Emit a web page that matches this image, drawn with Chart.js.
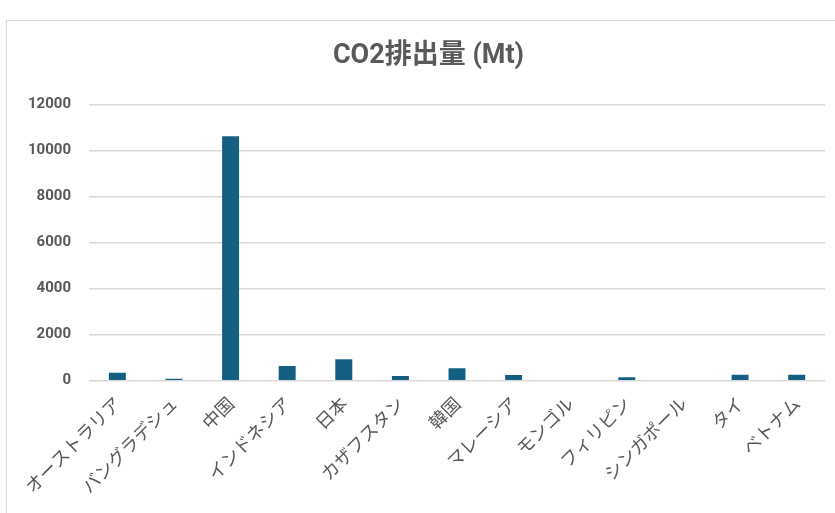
<!DOCTYPE html>
<html lang="ja">
<head>
<meta charset="utf-8">
<title>CO2排出量 (Mt)</title>
<script src="https://cdn.jsdelivr.net/npm/chart.js@4.4.1/dist/chart.umd.min.js"></script>
<style>
  html, body { margin: 0; padding: 0; background: #fff; overflow: hidden; }
  #wrap { position: relative; width: 835px; height: 513px; }
  #frame {
    position: absolute; left: 6px; top: 20px; width: 900px; height: 600px;
    border: 1.5px solid #d9d9d9; box-sizing: border-box;
  }
  #box { position: absolute; left: 0; top: 0; width: 835px; height: 513px; }
</style>
</head>
<body>
<div id="wrap">
  <div id="frame"></div>
  <div id="box"><canvas id="myChart"></canvas></div>
</div>
<script>
// 国名と排出量 (Mt)
var kuni = ['オーストラリア', 'バングラデシュ', '中国', 'インドネシア', '日本', 'カザフスタン',
            '韓国', 'マレーシア', 'モンゴル', 'フィリピン', 'シンガポール', 'タイ', 'ベトナム'];
var haishutsu = [340, 80, 10620, 640, 930, 205, 540, 250, 0, 145, 0, 260, 260];
var yMemori = [0, 2000, 4000, 6000, 8000, 10000, 12000];

var iro = '#595959';
var fontJa = "'Noto Sans CJK JP', sans-serif";

// タイトルを枠の中央に寄せる (少し右へ)
var titleShift = {
    id: 'titleShift',
    afterLayout: function (chart) {
        if (chart.titleBlock) {
            chart.titleBlock.left += 11;
            chart.titleBlock.right += 11;
        }
    }
};

var ctx = document.getElementById('myChart');

var myChart = new Chart(ctx, {
    type: 'bar',
    data: {
        labels: kuni,
        datasets: [{
            label: 'CO2排出量 (Mt)',
            data: haishutsu,
            backgroundColor: '#156082',
            barPercentage: 0.3,
            categoryPercentage: 1.0
        }]
    },
    plugins: [titleShift],
    options: {
        responsive: true,
        maintainAspectRatio: false,
        animation: false,
        layout: {
            padding: {left: 10, right: 10, top: 0, bottom: 12}
        },
        scales: {
            x: {
                grid: {display: false},
                border: {display: false},
                ticks: {
                    color: iro,
                    font: {family: fontJa, size: 18},
                    minRotation: 45,
                    maxRotation: 45,
                    padding: 4
                }
            },
            y: {
                min: yMemori[0],
                max: yMemori[yMemori.length - 1],
                afterBuildTicks: function (axis) {
                    axis.ticks = yMemori.map(function (v) { return {value: v}; });
                },
                grid: {color: '#d9d9d9', lineWidth: 1.5, drawTicks: false},
                border: {display: false},
                ticks: {
                    color: iro,
                    font: {family: "Roboto, sans-serif", size: 15, weight: 'bold'},
                    padding: 18,
                    callback: function (v) { return String(v); }
                }
            }
        },
        plugins: {
            legend: {display: false},
            tooltip: {enabled: false},
            title: {
                display: true,
                text: 'CO2排出量 (Mt)',
                color: iro,
                font: {family: "Roboto, " + fontJa, size: 27, weight: 'bold'},
                padding: {top: 40, bottom: 32}
            }
        }
    }
});
</script>
</body>
</html>
